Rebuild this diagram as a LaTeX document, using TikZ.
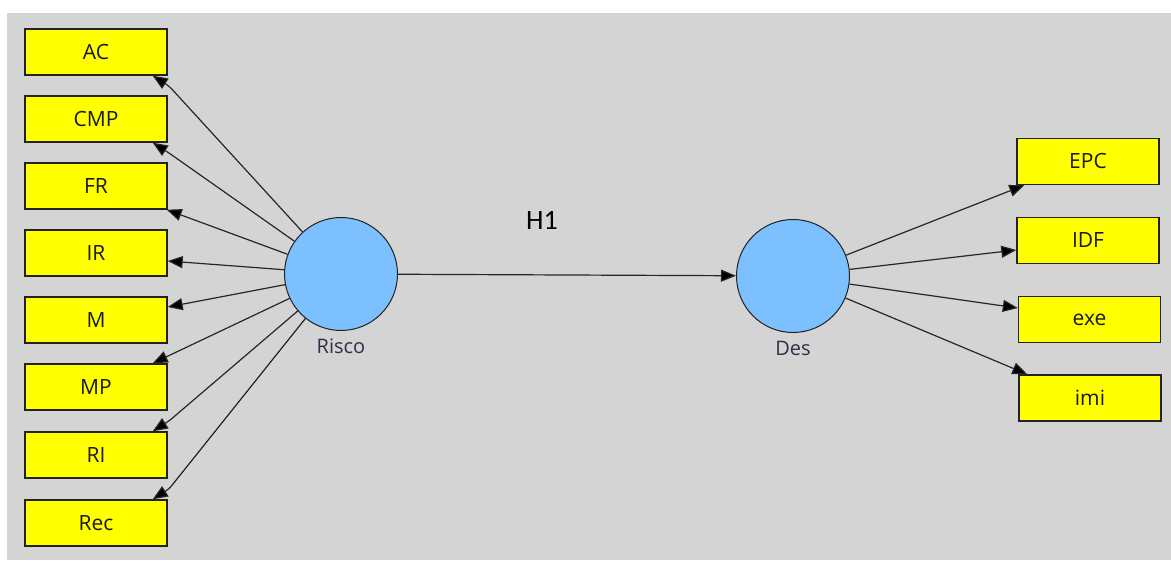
\documentclass[tikz,border=0pt]{standalone}
\usepackage{fontspec}
\setmainfont{Open Sans}
\newfontfamily\hfont{Carlito}
\usetikzlibrary{arrows.meta}
\definecolor{bggray}{HTML}{D4D4D4}
\definecolor{boxyellow}{HTML}{FFFF00}
\definecolor{lvblue}{HTML}{7DC0FF}
\definecolor{edgec}{HTML}{222222}
\definecolor{linkc}{HTML}{262626}
\definecolor{lvtext}{HTML}{2E3048}
\begin{document}
\begin{tikzpicture}[x=1pt,y=-1pt,
  ind/.style={draw=edgec, line width=1.4pt, fill=boxyellow,
    minimum width=142pt, minimum height=46pt, inner sep=0pt,
    text=black!90, font=\fontsize{21}{21}\selectfont},
  lv/.style={circle, draw=edgec, line width=1pt, fill=lvblue,
    minimum size=113pt, inner sep=0pt},
  lvlabel/.style={text=lvtext, font=\fontsize{20}{20}\selectfont, inner sep=0pt},
  link/.style={draw=linkc, line width=1.2pt,
    -{Triangle[length=15pt,width=12pt,fill=black]}},
  hook/.style={link, rounded corners=4pt}
]
\useasboundingbox (0,0) rectangle (1171,561);
\fill[white] (0,0) rectangle (1171,561);
\fill[bggray] (7,13) rectangle (1171,560);

% indicators of Risco
\node[ind] (AC)  at (96,52)  {AC};
\node[ind] (CMP) at (96,119) {CMP};
\node[ind] (FR)  at (96,186) {FR};
\node[ind] (IR)  at (96,253) {IR};
\node[ind] (M)   at (96,320) {M};
\node[ind] (MP)  at (96,387) {MP};
\node[ind] (RI)  at (96,455) {RI};
\node[ind] (Rec) at (96,523) {Rec};

% indicators of Des
\node[ind] (EPC) at (1088,161.5) {EPC};
\node[ind] (IDF) at (1088,240.5) {IDF};
\node[ind] (exe) at (1089.5,319.5) {exe};
\node[ind] (imi) at (1090,398) {imi};

% latent variables
\node[lv] (risco) at (341,274) {};
\node[lv] (des)   at (793,276) {};
\node[lvlabel] (risconame) at (341,346) {Risco};
\node[lvlabel] (desname)   at (793,348) {Des};

% structural path
\draw[link] (risco) -- (des);
\node[font=\hfont\fontsize{28}{28}\selectfont, inner sep=0pt] (h1) at (542,220) {H1};

% bend points of the hooked arrows
\coordinate (ACe)  at (169,86);
\coordinate (CMPe) at (169,153);
\coordinate (RIe)  at (169,421);
\coordinate (Rece) at (169,489);

% outer loadings of Risco
\draw[hook] (risco) -- (ACe)  -- ([xshift=-15pt]AC.south east);
\draw[hook] (risco) -- (CMPe) -- ([xshift=-15pt]CMP.south east);
\draw[link] (risco) -- ([xshift=-1pt]FR.south east);
\draw[link] (risco) -- ([yshift=-8pt]IR.east);
\draw[link] (risco) -- ([yshift=13pt]M.east);
\draw[link] (risco) -- ([xshift=-15pt]MP.north east);
\draw[hook] (risco) -- (RIe)  -- ([xshift=-15pt]RI.north east);
\draw[hook] (risco) -- (Rece) -- ([xshift=-15pt]Rec.north east);

% outer loadings of Des
\draw[link] (des) -- ([xshift=8pt]EPC.south west);
\draw[link] (des) -- ([yshift=-9.5pt]IDF.west);
\draw[link] (des) -- ([yshift=11.5pt]exe.west);
\draw[link] (des) -- ([xshift=9pt]imi.north west);
\end{tikzpicture}
\end{document}
